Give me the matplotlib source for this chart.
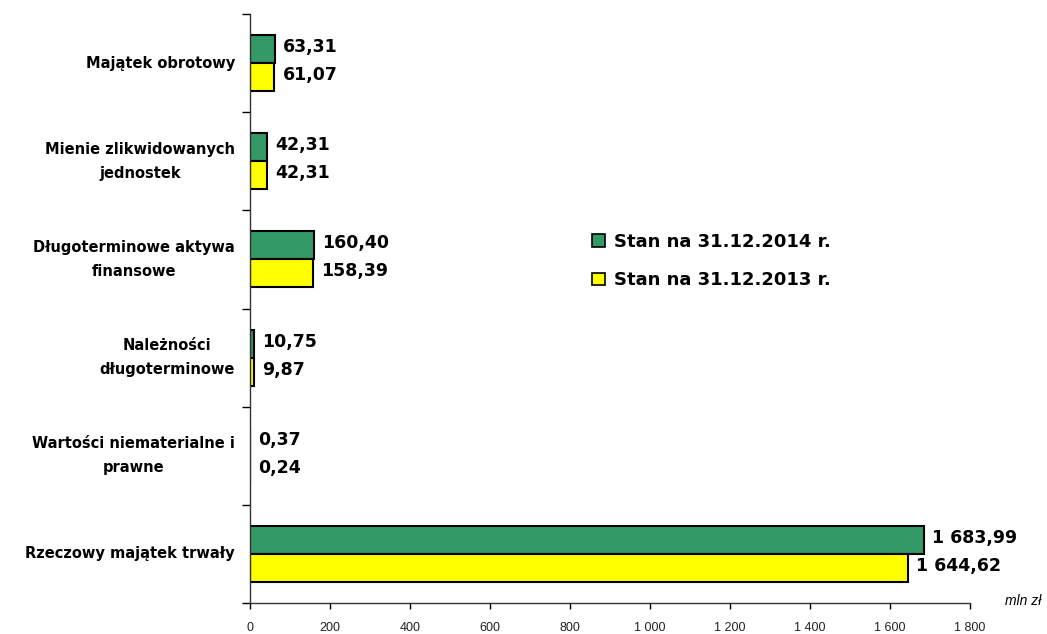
import matplotlib
matplotlib.use("Agg")
import matplotlib.pyplot as plt
import matplotlib.ticker as pltTicker
from matplotlib.patches import Patch
import numpy as np

plt.rcParams["font.family"] = ["Liberation Sans", "DejaVu Sans"]
BOLD_FAMILY = ["DejaVu Sans"]

# bottom to top
categories = [
    "Rzeczowy majątek trwały",
    "Wartości niematerialne i\nprawne",
    "Należności\ndługoterminowe",
    "Długoterminowe aktywa\nfinansowe",
    "Mienie zlikwidowanych\njednostek",
    "Majątek obrotowy",
]
values_2014 = [1683.99, 0.37, 10.75, 160.40, 42.31, 63.31]
values_2013 = [1644.62, 0.24, 9.87, 158.39, 42.31, 61.07]
series_labels = ["Stan na 31.12.2014 r.", "Stan na 31.12.2013 r."]
x_ticks = [0, 200, 400, 600, 800, 1000, 1200, 1400, 1600, 1800]

GREEN = "#339966"
YELLOW = "#FFFF00"


def fmt_pl(v, decimals=2):
    s = f"{v:,.{decimals}f}"
    return s.replace(",", " ").replace(".", ",")


fig = plt.figure(figsize=(10.47, 6.34), dpi=100)
ax = fig.add_axes([250 / 1047, 1 - 603 / 634, 720 / 1047, 589 / 634])

y = np.arange(len(categories))
h = 0.285
ax.barh(y + h / 2, values_2014, height=h, color=GREEN, edgecolor="black", linewidth=1.5)
ax.barh(y - h / 2, values_2013, height=h, color=YELLOW, edgecolor="black", linewidth=1.5)

for yi, v in zip(y, values_2014):
    ax.text(v + 20, yi + h / 2 + 0.02, fmt_pl(v), va="center", ha="left",
            fontsize=12.5, fontweight="bold", family=BOLD_FAMILY)
for yi, v in zip(y, values_2013):
    ax.text(v + 20, yi - h / 2 + 0.02, fmt_pl(v), va="center", ha="left",
            fontsize=12.5, fontweight="bold", family=BOLD_FAMILY)

ax.set_xlim(0, 1800)
ax.set_ylim(-0.5, len(categories) - 0.5)

ax.set_xticks(x_ticks)
ax.xaxis.set_major_formatter(pltTicker.FuncFormatter(lambda v, p: fmt_pl(v, 0)))
ax.tick_params(axis="x", labelsize=9, labelcolor="#222222", length=4.5, width=1,
               direction="out", pad=9)

# category ticks between groups
ax.set_yticks(np.arange(-0.5, len(categories), 1.0))
ax.set_yticklabels([])
ax.tick_params(axis="y", length=6, width=1, direction="out")
for yi, name in zip(y, categories):
    ax.text(-0.021, yi, name, transform=ax.get_yaxis_transform(), ha="right",
            va="center", multialignment="center", fontsize=10.5, fontweight="bold",
            family=BOLD_FAMILY, linespacing=1.75)

for side in ["top", "right"]:
    ax.spines[side].set_visible(False)
for side in ["left", "bottom"]:
    ax.spines[side].set_color("#333333")
    ax.spines[side].set_linewidth(1)

fig.text(1041 / 1047, 1 - 601 / 634, "mln zł", ha="right", va="center",
         fontsize=10, style="italic")

handles = [Patch(facecolor=GREEN, edgecolor="black", linewidth=1.2),
           Patch(facecolor=YELLOW, edgecolor="black", linewidth=1.2)]
ax.legend(handles, series_labels, loc="center left",
          bbox_to_anchor=(576 / 1047, 1 - 261 / 634), bbox_transform=fig.transFigure,
          frameon=False, prop={"size": 13, "weight": "bold", "family": BOLD_FAMILY},
          handlelength=0.7, handleheight=0.7, handletextpad=0.5, labelspacing=1.15)

fig.savefig("out.png", dpi=100)
